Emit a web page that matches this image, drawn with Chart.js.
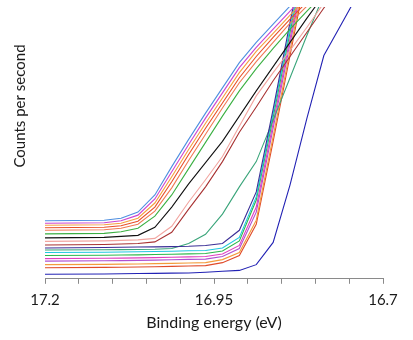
<!DOCTYPE html>
<html><head><meta charset="utf-8">
<script src="https://cdn.jsdelivr.net/npm/chart.js@4/dist/chart.umd.min.js"></script>
<style>html,body{margin:0;padding:0;background:#fff}#wrap{width:413px;height:340px}</style>
</head><body><div id="wrap"><canvas id="c"></canvas></div>
<script>
// Binding energy (eV) of each sample point
const energy = [17.2,17.1125,17.0875,17.0625,17.0375,17.0125,16.9875,16.9625,16.9375,16.9125,16.8875,16.8625,16.8375,16.8125,16.7875,16.7625,16.7375];
const xTickLabels = ["17.2","16.95","16.7"];
// Counts per second (arbitrary units), one array per spectrum
const sCornflower = [5750,5800,6000,6600,8300,11100,13800,16400,18900,21400,23400,25200,27000,28600];
const sMagenta    = [5500,5550,5750,6300,7900,10600,13300,15900,18400,20900,22900,24700,26500,28200];
const sOrange     = [5300,5350,5500,6000,7500,10100,12800,15400,17900,20400,22500,24300,26100,27800];
const sRed        = [5050,5100,5250,5700,7100,9600,12300,14900,17400,19900,22000,23900,25700,27400];
const sCoral      = [4800,4850,5000,5400,6700,9000,11700,14300,16900,19400,21500,23400,25300,27000,28600];
const sGreen      = [4450,4500,4650,5000,6200,8300,10900,13500,16100,18600,20800,22800,24700,26500,28200];
const sBlack      = [4050,4100,4200,4300,5100,7100,9400,11500,13600,16100,18600,21000,23400,25800,28100];
const sPink       = [3700,3750,3800,3850,4000,5200,7600,9800,12100,15100,18100,20400,22600,24900,27300,29600];
const sDarkRed    = [3350,3400,3450,3500,3650,4600,6900,9100,11600,14500,17000,19600,22000,24400,26800,29100];
const sNavy       = [3050,3100,3120,3140,3160,3180,3220,3300,3500,4800,8600,16800,25400,33600];
const sTeal       = [2850,2870,2890,2900,2920,3000,3500,4400,6400,9100,11600,15700,19900,24100,28100];
const sCyan       = [2600,2630,2650,2670,2700,2730,2770,2800,3050,4100,8100,16400,24800,33100];
const sGreen2     = [2300,2330,2350,2370,2400,2430,2470,2500,2750,3750,7800,16000,24400,32600];
const sMagenta2   = [2000,2030,2050,2070,2100,2130,2170,2200,2450,3300,7100,15400,23800,32100];
const sViolet     = [1750,1780,1800,1820,1850,1880,1920,1950,2200,3000,6600,14900,23300,31600];
const sOrange2    = [1400,1430,1450,1470,1500,1530,1570,1600,1900,2600,5800,14100,22600,31100];
const sRed2       = [1100,1130,1150,1170,1200,1230,1270,1300,1600,2300,5400,13600,22100,30600];
const sBlue       = [450,470,500,520,540,560,580,650,750,830,1400,3600,9300,15900,22100,25100,28100];

const series = [
  [sCornflower,'#4f8fe0'],[sMagenta,'#cc44d0'],[sOrange,'#f5a040'],[sRed,'#e8502a'],
  [sCoral,'#f07a55'],[sGreen,'#3cb043'],[sBlack,'#111111'],[sPink,'#f2a5a0'],[sDarkRed,'#a83232'],
  [sNavy,'#3b2f96'],[sTeal,'#3aa57a'],[sCyan,'#22c8e0'],[sGreen2,'#2db84a'],[sMagenta2,'#e040c0'],
  [sViolet,'#b050d0'],[sOrange2,'#f39c3c'],[sRed2,'#e04b2a'],[sBlue,'#2222b4']
];
const datasets = series.map(([vals,col]) => ({
  data: vals.map((v,i)=>({x:energy[i], y:v})),
  borderColor: col, borderWidth: 1.1, pointRadius: 0, tension: 0, fill: false
}));

const yTitle = {
  id:'yTitle',
  afterDraw(chart){
    const ctx = chart.ctx;
    ctx.save();
    ctx.translate(20,106);
    ctx.rotate(-Math.PI/2);
    ctx.font = '15px Lato';
    ctx.fillStyle = '#1a1a1a';
    ctx.textAlign = 'center';
    ctx.textBaseline = 'middle';
    ctx.fillText('Counts per second',0,0);
    ctx.restore();
  }
};

new Chart(document.getElementById('c'), {
  type: 'line',
  data: { datasets },
  options: {
    responsive: true, maintainAspectRatio: false, animation: false,
    layout: { padding: { left: 45, right: 30, top: 7, bottom: 8 } },
    plugins: { legend: { display: false }, tooltip: { enabled: false } },
    scales: {
      x: {
        type: 'linear', reverse: true, min: 16.7, max: 17.2,
        grid: { display: true, drawOnChartArea: false, tickLength: 5, color: '#8a8a8a' },
        border: { display: true, color: '#8a8a8a' },
        ticks: {
          stepSize: 0.05, autoSkip: false, maxRotation: 0, padding: 7,
          font: { family: 'Lato', size: 15 }, color: '#1a1a1a',
          callback: (v) => {
            const s = (Math.round(v*100)/100).toString();
            return xTickLabels.includes(s) ? s : '';
          }
        },
        title: { display: true, text: 'Binding energy (eV)', font: { family: 'Lato', size: 16 }, color: '#1a1a1a', padding: { top: -3, bottom: 0 } }
      },
      y: { display: false, min: 0, max: 26900 }
    }
  },
  plugins: [yTitle]
});
</script></body></html>
